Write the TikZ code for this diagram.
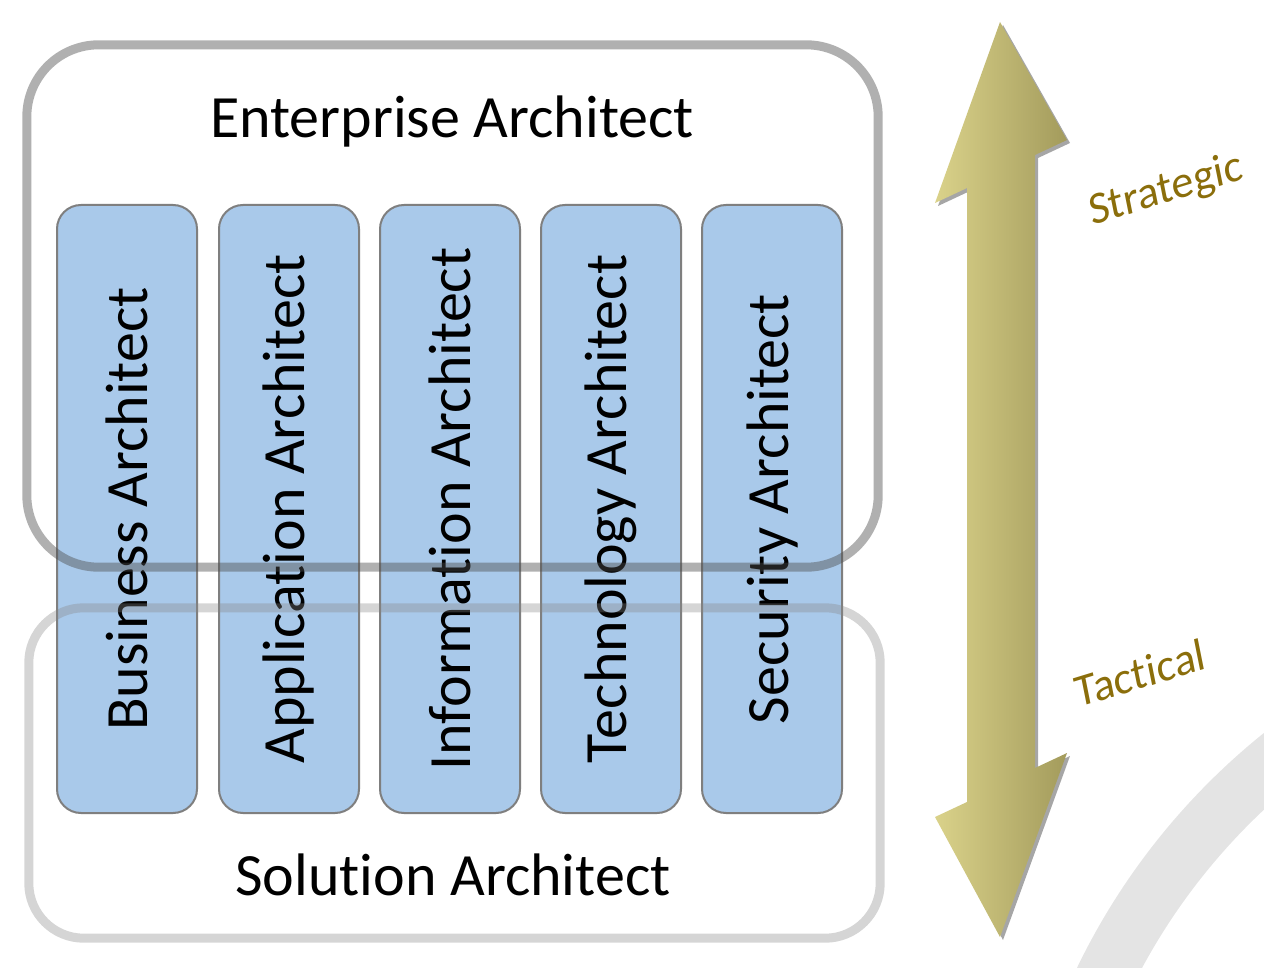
\documentclass[tikz,border=0pt]{standalone}
\usepackage{fontspec}
\setmainfont{Carlito}[Ligatures=NoCommon]
\definecolor{colfill}{HTML}{A9C9EA}
\definecolor{colline}{HTML}{7F7F7F}
\definecolor{olive}{HTML}{8B6E0B}
\definecolor{arrowL}{HTML}{DAD28A}
\definecolor{arrowR}{HTML}{A39B5C}
\definecolor{arcgray}{HTML}{E4E4E4}
\tikzset{
  column/.style={draw=colline, line width=2pt, fill=colfill, rounded corners=24pt,
    rotate=90, minimum width=608pt, minimum height=140pt, inner sep=0pt,
    font=\fontsize{60}{64}\selectfont},
  bigbox/.style={fill=white, draw=none, inner sep=0pt},
  entline/.style={draw=black!70, draw opacity=0.44, line width=9pt, rounded corners=72pt},
  solline/.style={draw=black!47, draw opacity=0.35, line width=9pt, rounded corners=55pt},
  title/.style={font=\fontsize{60}{64}\selectfont, anchor=base, inner sep=0pt},
  side/.style={font=\fontsize{45}{48}\selectfont, text=olive, rotate=17, inner sep=0pt, xslant=0.1},
}
\begin{document}
\begin{tikzpicture}[x=1pt, y=-1pt]
\useasboundingbox (0,0) rectangle (1264,968);
% background arc
\begin{scope}
\clip (0,0) rectangle (1264,968);
\draw[arcgray, line width=58pt] (1688,1262) circle (649);
\end{scope}
% box fills
\node[bigbox, minimum width=851pt, minimum height=522pt] (ent) at (452.5,306) {};
\node[bigbox, minimum width=851pt, minimum height=330pt] (sol) at (454.5,773) {};
% columns
\node[column] (c1) at (127,509) {Business Architect};
\node[column] (c2) at (289,509) {Application Architect};
\node[column] (c3) at (450,509) {Information Architect};
\node[column] (c4) at (611,509) {Technology Architect};
\node[column] (c5) at (772,509) {Security Architect};
% box outlines
\draw[entline] (ent.south west) rectangle (ent.north east);
\draw[solline] (sol.south west) rectangle (sol.north east);
\node[title] (entlabel) at (452,138) {Enterprise Architect};
\node[title] (sollabel) at (453,895) {Solution Architect};
% arrow
\fill[black, opacity=0.35] (1003,25) -- (1070,143) -- (1038,158) -- (1038,771) -- (1070,756) -- (1003,940) -- (938,820) -- (970,805) -- (970,191) -- (938,206) -- cycle;
\shade[left color=arrowL, right color=arrowR] (1000,22) -- (1067,140) -- (1035,155) -- (1035,768) -- (1067,753) -- (1000,937) -- (935,817) -- (967,802) -- (967,188) -- (935,203) -- cycle;
\node[side] (strat) at (1166,191) {Strategic};
\node[side] (tact) at (1140,673) {Tactical};
\end{tikzpicture}
\end{document}
